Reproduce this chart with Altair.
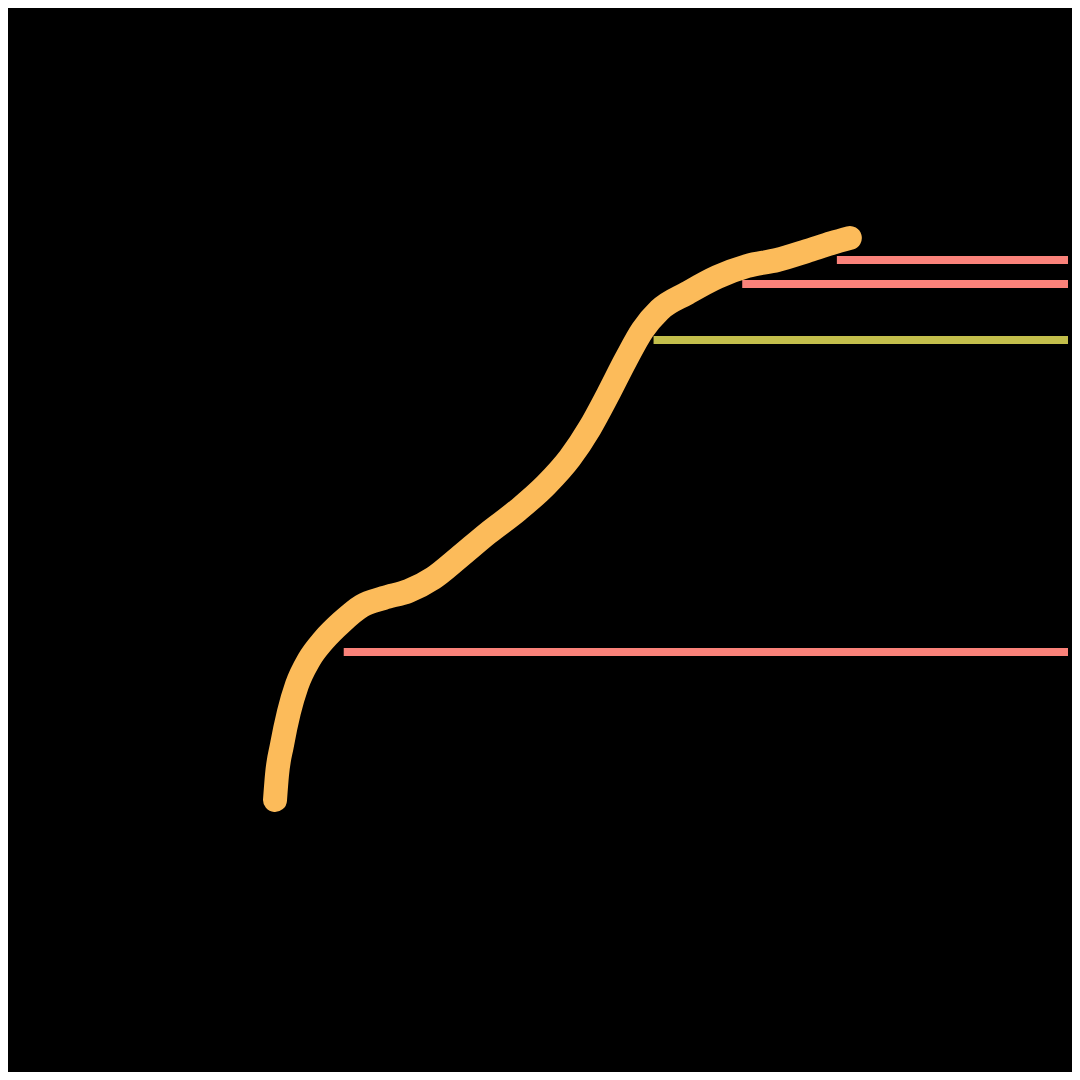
import altair as alt
import pandas as pd

# Curve, measured in page pixels: x to the right, h = height above the page bottom
curve_x = [276, 278, 283, 290, 298, 310, 325, 343, 363, 385, 410, 435, 460, 490,
           520, 548, 572, 592, 610, 628, 645, 662, 690, 720, 750, 780, 810, 835, 853]
curve_py = [800, 775, 745, 712, 685, 660, 640, 622, 606, 598, 591, 578, 558, 533,
            510, 485, 458, 428, 395, 360, 330, 310, 293, 277, 266, 260, 251, 243, 238]
curve_h = [1080 - v for v in curve_py]

# Horizontal marker lines
line_start = [840, 745, 656, 345]
line_py = [260, 284, 340, 652]
line_h = [1080 - v for v in line_py]
line_end = [1072, 1072, 1072, 1072]
line_cat = ["a", "b", "c", "d"]
line_colors = ["#FA827A", "#FA827A", "#C3BE4B", "#FA827A"]

curve_df = pd.DataFrame({"x": curve_x, "h": curve_h, "order": list(range(len(curve_x)))})
line_df = pd.DataFrame({"x": line_start, "x2": line_end, "h": line_h, "cat": line_cat})

xs = alt.Scale(domain=[8, 1072], nice=False, zero=False)
ys = alt.Scale(domain=[8, 1072], nice=False, zero=False)

rules = alt.Chart(line_df).mark_rule(strokeWidth=8).encode(
    x=alt.X("x:Q", scale=xs, axis=None),
    x2="x2:Q",
    y=alt.Y("h:Q", scale=ys, axis=None),
    color=alt.Color("cat:N", scale=alt.Scale(domain=line_cat, range=line_colors), legend=None),
)

curve = alt.Chart(curve_df).mark_line(
    color="#FCBB5A", strokeWidth=24, strokeCap="round", strokeJoin="round",
    interpolate="monotone",
).encode(
    x=alt.X("x:Q", scale=xs, axis=None),
    y=alt.Y("h:Q", scale=ys, axis=None),
    order="order:Q",
)

chart = (rules + curve).properties(
    width=1064, height=1064, background="#000000", padding=0,
    autosize=alt.AutoSizeParams(type="fit", contains="padding"),
).configure_view(stroke=None)

chart.save("out.html", embed_options={"renderer": "svg", "actions": False})
